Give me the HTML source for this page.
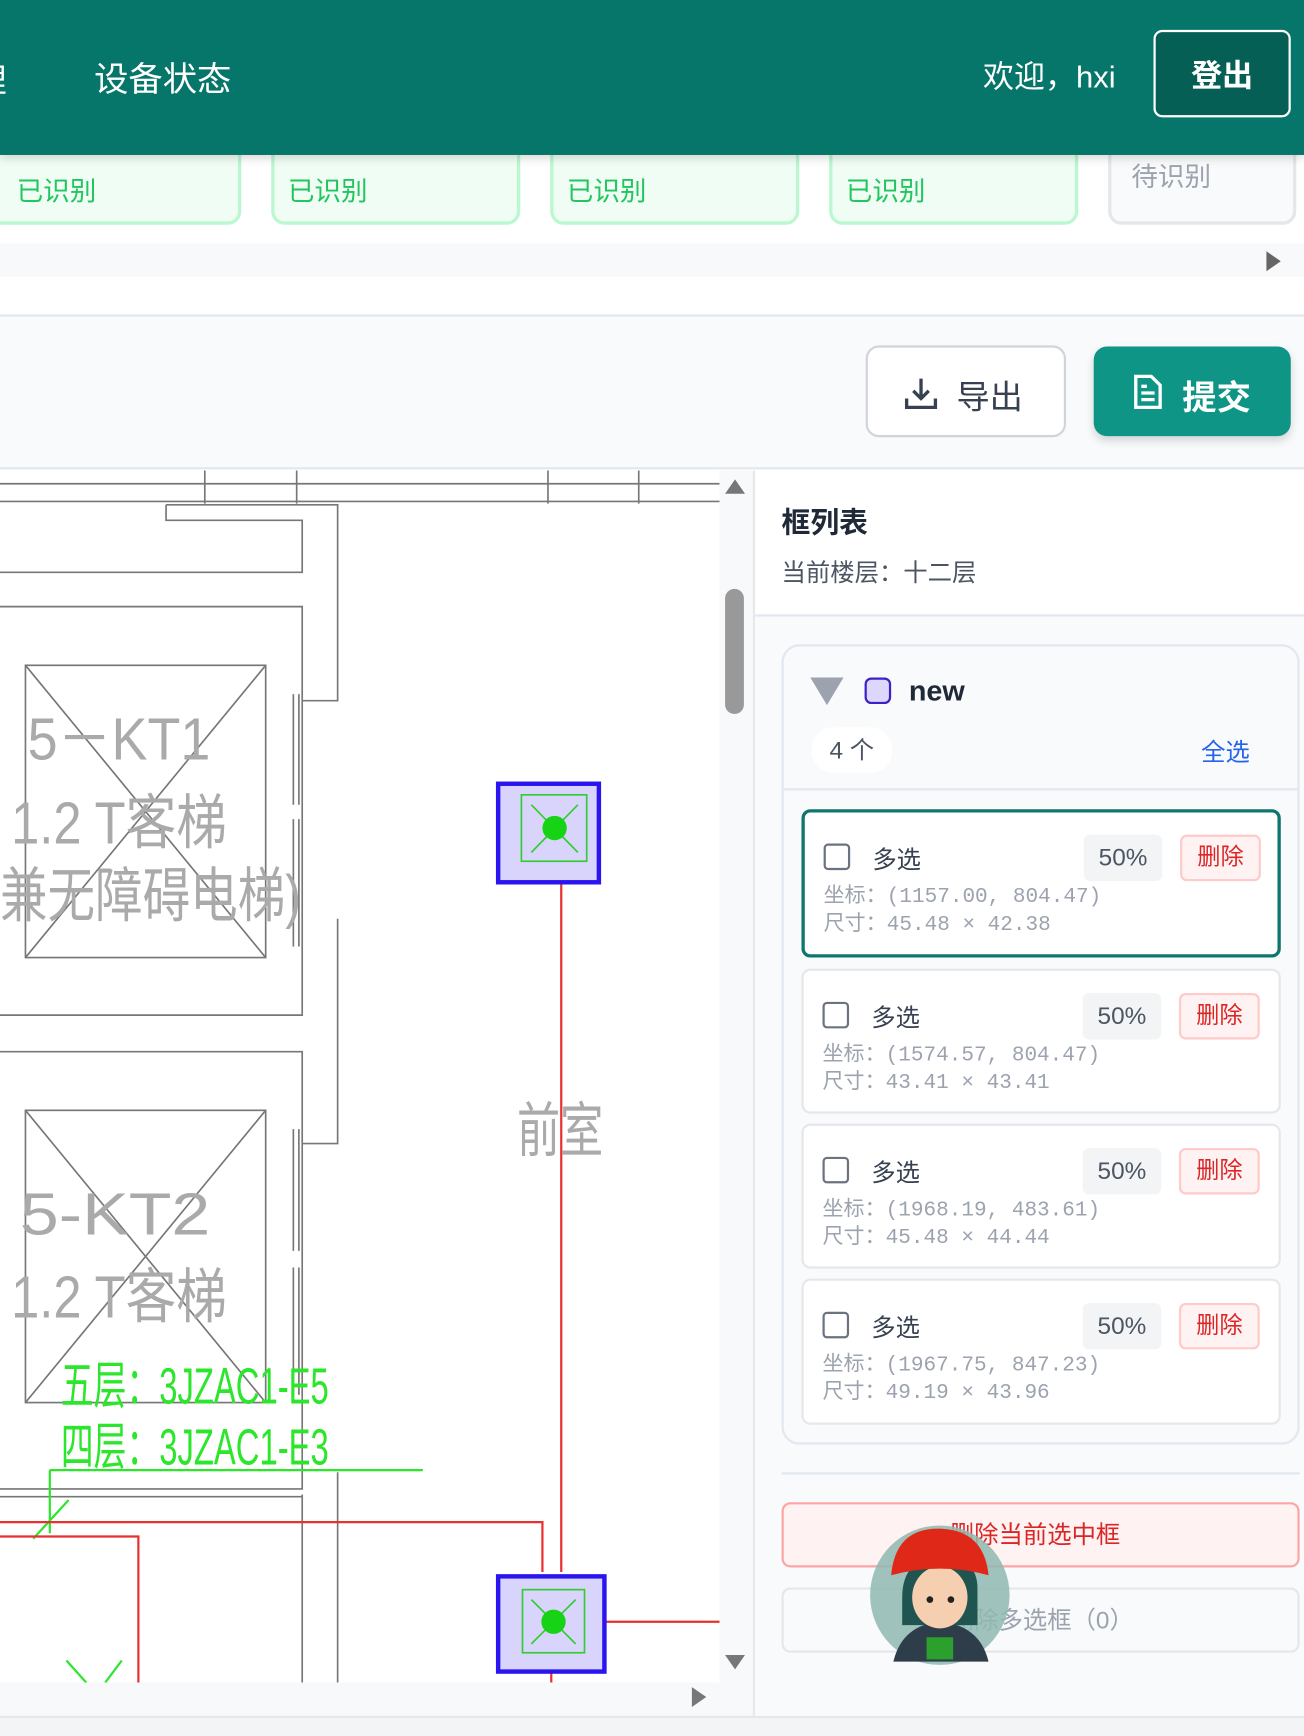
<!DOCTYPE html>
<html><head><meta charset="utf-8"><style>
*{box-sizing:border-box;margin:0;padding:0}
body{width:1304px;height:1736px;overflow:hidden;background:#fff;font-family:"Liberation Sans","Noto Sans CJK SC",sans-serif}
#w{position:absolute;left:0;top:0;width:1178px;height:1568px;transform:scale(1.107);transform-origin:0 0}
.a{position:absolute}
.card{position:absolute;top:110px;height:93px;background:#f0fdf4;border:3px solid #bbf7d0;border-radius:12px}
.card span{position:absolute;left:12px;top:40px;font-size:24px;color:#22c55e}
.item{position:absolute;left:724px;width:433px;background:#fff;border:2px solid #e5e7eb;border-radius:8px}
.item .cb{position:absolute;left:17px;top:28px;width:24px;height:24px;border:2px solid #6b7280;border-radius:4px}
.item .t{position:absolute;left:61px;top:25px;font-size:22px;color:#374151}
.item .p{position:absolute;left:252px;top:20px;width:71px;height:42px;background:#f3f4f6;border-radius:6px;font-size:22px;color:#4b5563;text-align:center;line-height:42px}
.item .d{position:absolute;left:339px;top:20px;width:73px;height:42px;background:#fef2f2;border:2px solid #fecaca;border-radius:6px;font-size:21px;color:#dc2626;text-align:center;line-height:38px}
.item .c{position:absolute;left:17px;top:64px;font-family:"Liberation Mono","Noto Sans CJK SC",monospace;font-size:19px;color:#9ca3af;line-height:25px;white-space:pre}
</style></head><body><div id="w">
<div class="card" style="left:-10px;width:228px"><span style="left:22px">已识别</span></div>
<div class="card" style="left:245px;width:225px"><span>已识别</span></div>
<div class="card" style="left:497px;width:225px"><span>已识别</span></div>
<div class="card" style="left:749px;width:225px"><span>已识别</span></div>
<div class="card" style="left:1001px;width:170px;background:#f9fafb;border-color:#e5e7eb"><span style="color:#9ca3af;left:18px;top:27px">待识别</span></div>
<div class="a" style="left:0;top:220px;width:1178px;height:30px;background:#f8f9fa"></div>
<div class="a" style="left:1144px;top:227px;width:0;height:0;border-left:13px solid #666;border-top:9px solid transparent;border-bottom:9px solid transparent"></div>
<div class="a" style="left:0;top:0;width:1178px;height:140px;background:#07766a;box-shadow:0 3px 8px rgba(0,0,0,.15)"></div>
<div class="a" style="left:-24px;top:48px;font-size:30px;color:#fff">理</div>
<div class="a" style="left:85px;top:46px;font-size:31px;color:#fff">设备状态</div>
<div class="a" style="left:888px;top:48px;font-size:28px;color:#fff">欢迎，hxi</div>
<div class="a" style="left:1042px;top:27px;width:124px;height:79px;background:#065f55;border:2px solid #fff;border-radius:8px;color:#fff;font-size:28px;font-weight:bold;text-align:center;line-height:79px">登出</div>
<div class="a" style="left:0;top:284px;width:1178px;height:140px;background:#f8fafc;border-top:2px solid #e2e8f0;border-bottom:2px solid #e2e8f0"></div>
<div class="a" style="left:782px;top:312px;width:181px;height:83px;background:#fff;border:2px solid #d1d5db;border-radius:12px"></div>
<svg class="a" style="left:815px;top:338px" width="34" height="34" viewBox="0 0 34 34" fill="none" stroke="#374151" stroke-width="3"><path d="M17 4v18M10 15l7 7 7-7M4 22v8h26v-8"/></svg>
<div class="a" style="left:864px;top:334px;font-size:30px;color:#374151">导出</div>
<div class="a" style="left:988px;top:313px;width:178px;height:81px;background:#0f9585;border-radius:12px;box-shadow:0 4px 8px rgba(0,0,0,.15)"></div>
<svg class="a" style="left:1022px;top:337px" width="30" height="34" viewBox="0 0 30 34" fill="none" stroke="#fff" stroke-width="3"><path d="M4 3h14l8 8v20H4z M9 18h12M9 24h12M9 12h5"/></svg>
<div class="a" style="left:1068px;top:334px;font-size:31px;color:#fff;font-weight:bold">提交</div>
<svg class="a" style="left:0;top:425px" width="650" height="1095" viewBox="0 425 650 1095" font-family="Liberation Sans,Noto Sans CJK SC,sans-serif">
<g stroke="#777" stroke-width="1.5" fill="none">
<path d="M0 437H650M0 453H650M185 425V455M268 425V455M495 425V455M577 425V455"/>
<path d="M150 456H305V633H273M150 456V470H273V517H0M0 548H273V917H0"/>
<path d="M305 830V1033H273M0 950H273V1345H0M305 1330V1520M273 1350V1520M0 1352H273"/>
<rect x="23" y="601" width="217" height="264"/><path d="M23 601L240 865M240 601L23 865"/>
<rect x="23" y="1003" width="217" height="264"/><path d="M23 1003L240 1267M240 1003L23 1267"/>
<path d="M265 627V727M270 627V727M265 740V855M270 740V855M265 1020V1130M270 1020V1130M265 1145V1260M270 1145V1260"/>
</g>
<g fill="#aaa" font-size="54" lengthAdjust="spacingAndGlyphs">
<text x="25" y="686" textLength="165" lengthAdjust="spacingAndGlyphs">5－KT1</text>
<text x="10" y="762" textLength="195" lengthAdjust="spacingAndGlyphs">1.2 T客梯</text>
<text x="0" y="828" textLength="272" lengthAdjust="spacingAndGlyphs">兼无障碍电梯)</text>
<text x="18" y="1115" textLength="172" lengthAdjust="spacingAndGlyphs">5-KT2</text>
<text x="10" y="1190" textLength="195" lengthAdjust="spacingAndGlyphs">1.2 T客梯</text>
<text x="467" y="1040" textLength="78" lengthAdjust="spacingAndGlyphs">前室</text>
</g>
<g fill="#2ce62c" font-size="46"><text x="55" y="1268" textLength="242" lengthAdjust="spacingAndGlyphs">五层：3JZAC1-E5</text><text x="55" y="1323" textLength="242" lengthAdjust="spacingAndGlyphs">四层：3JZAC1-E3</text></g>
<path d="M45 1328H382M45 1328V1385M30 1390L62 1355" stroke="#2ce62c" stroke-width="2" fill="none"/>
<path d="M0 1375H490V1420M0 1388H125V1520M507 797V1420M547 1465H650M498 1510V1520" stroke="#e83030" stroke-width="2" fill="none"/>
<path d="M60 1500L78 1520M110 1500L95 1520" stroke="#2ce62c" stroke-width="2"/>
<rect x="450" y="708" width="91" height="89" fill="#d8d4fb" stroke="#2a14f0" stroke-width="4"/>
<rect x="471" y="718" width="59" height="60" fill="none" stroke="#3c3" stroke-width="1.5"/>
<path d="M480 727L522 770M522 727L480 770" stroke="#3c3" stroke-width="1.5"/><circle cx="501" cy="748" r="11" fill="#16d316"/>
<rect x="450" y="1424" width="96" height="86" fill="#d8d4fb" stroke="#2a14f0" stroke-width="4"/>
<rect x="472" y="1436" width="56" height="57" fill="none" stroke="#3c3" stroke-width="1.5"/>
<path d="M480 1445L520 1485M520 1445L480 1485" stroke="#3c3" stroke-width="1.5"/><circle cx="500" cy="1465" r="11" fill="#16d316"/>
</svg>
<div class="a" style="left:650px;top:425px;width:30px;height:1095px;background:#f8f9fa"></div>
<div class="a" style="left:655px;top:433px;border-bottom:13px solid #777;border-left:9px solid transparent;border-right:9px solid transparent"></div>
<div class="a" style="left:655px;top:532px;width:17px;height:113px;background:#999;border-radius:9px"></div>
<div class="a" style="left:655px;top:1495px;border-top:13px solid #777;border-left:9px solid transparent;border-right:9px solid transparent"></div>
<div class="a" style="left:0;top:1520px;width:680px;height:30px;background:#f8f9fa"></div>
<div class="a" style="left:625px;top:1524px;border-left:13px solid #777;border-top:9px solid transparent;border-bottom:9px solid transparent"></div>
<div class="a" style="left:0;top:1550px;width:1178px;height:18px;background:#f3f4f6;border-top:2px solid #e5e7eb"></div>
<div class="a" style="left:680px;top:425px;width:498px;height:1125px;background:#fff;border-left:2px solid #e5e7eb"></div>
<div class="a" style="left:682px;top:555px;width:496px;height:995px;background:#f8fafc;border-top:2px solid #e2e8f0"></div>
<div class="a" style="left:706px;top:452px;font-size:26px;font-weight:bold;color:#1f2937">框列表</div>
<div class="a" style="left:706px;top:500px;font-size:22px;color:#4b5563">当前楼层：十二层</div>
<div class="a" style="left:706px;top:582px;width:468px;height:723px;border:2px solid #e2e8f0;border-radius:16px;background:#f8fafc"></div>
<div class="a" style="left:708px;top:712px;width:464px;height:2px;background:#e2e8f0"></div>
<div class="a" style="left:732px;top:612px;border-top:25px solid #9ca3af;border-left:15px solid transparent;border-right:15px solid transparent"></div>
<div class="a" style="left:781px;top:612px;width:24px;height:24px;background:#ddd6fe;border:2px solid #3b21c6;border-radius:6px"></div>
<div class="a" style="left:821px;top:609px;font-size:26px;font-weight:bold;color:#1f2937">new</div>
<div class="a" style="left:733px;top:657px;width:73px;height:41px;background:#fff;border-radius:20px;font-size:22px;color:#4b5563;line-height:41px;text-align:center">4 个</div>
<div class="a" style="left:1085px;top:662px;font-size:22px;color:#2563eb">全选</div>
<div class="item" style="top:731px;height:134px;border:3px solid #0f766e"><div class="cb"></div><div class="t">多选</div><div class="p">50%</div><div class="d">删除</div><div class="c">坐标：(1157.00, 804.47)
尺寸：45.48 × 42.38</div></div>
<div class="item" style="top:875px;height:131px"><div class="cb"></div><div class="t">多选</div><div class="p">50%</div><div class="d">删除</div><div class="c">坐标：(1574.57, 804.47)
尺寸：43.41 × 43.41</div></div>
<div class="item" style="top:1015px;height:131px"><div class="cb"></div><div class="t">多选</div><div class="p">50%</div><div class="d">删除</div><div class="c">坐标：(1968.19, 483.61)
尺寸：45.48 × 44.44</div></div>
<div class="item" style="top:1155px;height:132px"><div class="cb"></div><div class="t">多选</div><div class="p">50%</div><div class="d">删除</div><div class="c">坐标：(1967.75, 847.23)
尺寸：49.19 × 43.96</div></div>
<div class="a" style="left:706px;top:1330px;width:468px;height:2px;background:#e2e8f0"></div>
<div class="a" style="left:706px;top:1357px;width:468px;height:59px;background:#fef2f2;border:2px solid #fca5a5;border-radius:8px;color:#dc2626;font-size:22px;line-height:55px;padding-left:150px">删除当前选中框</div>
<div class="a" style="left:706px;top:1434px;width:468px;height:59px;background:#f9fafb;border:2px solid #e5e7eb;border-radius:8px;color:#9ca3af;font-size:22px;line-height:55px;padding-left:150px">删除多选框（0）</div>
<svg class="a" style="left:785px;top:1373px" width="132" height="134" viewBox="0 0 132 134">
<circle cx="64" cy="68" r="63" fill="#8fb8b0" opacity=".85"/>
<path d="M22 128Q30 95 64 92Q100 95 108 128Z" fill="#2d3e4a"/>
<rect x="52" y="106" width="24" height="20" fill="#2ca02c"/>
<path d="M30 70Q30 34 66 32Q98 34 98 62V95H30Z" fill="#1f5450"/>
<ellipse cx="64" cy="70" rx="25" ry="28" fill="#f5cfb0"/>
<path d="M20 50Q24 6 66 8Q104 10 108 50Q64 38 20 50Z" fill="#e02818"/>
<circle cx="55" cy="72" r="3" fill="#222"/><circle cx="74" cy="72" r="3" fill="#222"/>
</svg>
</div></body></html>
